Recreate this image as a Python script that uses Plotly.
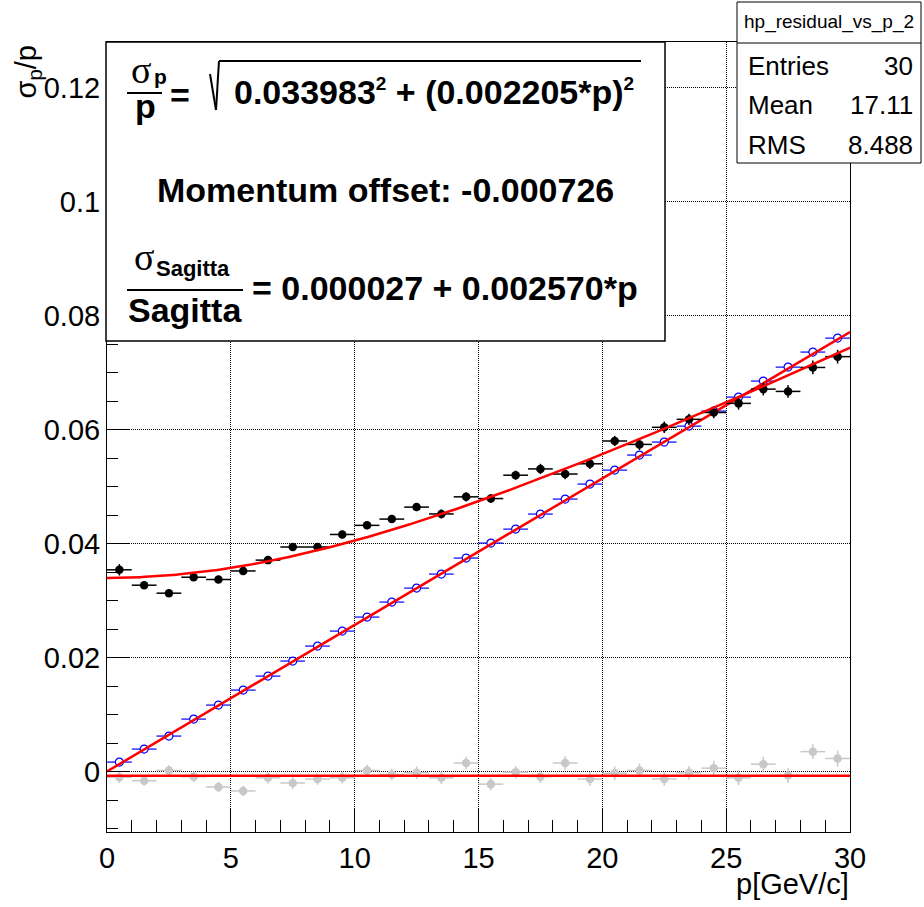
import plotly.graph_objects as go

# ---------------- data ----------------
p_bins = [0.5, 1.5, 2.5, 3.5, 4.5, 5.5, 6.5, 7.5, 8.5, 9.5,
          10.5, 11.5, 12.5, 13.5, 14.5, 15.5, 16.5, 17.5, 18.5, 19.5,
          20.5, 21.5, 22.5, 23.5, 24.5, 25.5, 26.5, 27.5, 28.5, 29.5]
bin_half = [0.5] * 30

sigma_p_over_p = [0.0354, 0.0327, 0.0313, 0.0341, 0.0337, 0.0352, 0.0371, 0.0394, 0.0394, 0.0416,
                  0.0432, 0.0443, 0.0464, 0.0452, 0.0482, 0.0479, 0.0520, 0.0531, 0.0522, 0.0540,
                  0.0580, 0.0574, 0.0604, 0.0618, 0.0630, 0.0646, 0.0671, 0.0667, 0.0709, 0.0728]
sigma_p_err = [0.0010, 0.0005, 0.0005, 0.0005, 0.0005, 0.0006, 0.0006, 0.0006, 0.0006, 0.0007,
               0.0007, 0.0007, 0.0007, 0.0008, 0.0008, 0.0008, 0.0008, 0.0009, 0.0009, 0.0009,
               0.0009, 0.0010, 0.0010, 0.0010, 0.0010, 0.0011, 0.0011, 0.0011, 0.0012, 0.0012]

sagitta_res = [0.00167, 0.00395, 0.00623, 0.00921, 0.01167, 0.01430, 0.01675, 0.01939, 0.02202, 0.02465,
               0.02711, 0.02974, 0.03219, 0.03465, 0.03746, 0.04009, 0.04254, 0.04518, 0.04781, 0.05044,
               0.05289, 0.05553, 0.05781, 0.06061, 0.06325, 0.06570, 0.06851, 0.07096, 0.07360, 0.07605]

momentum_offset = [-0.0010, -0.0016, 0.0002, -0.0009, -0.0027, -0.0034, -0.0011, -0.0020, -0.0013, -0.0011,
                   0.0002, -0.0005, -0.0002, -0.0011, 0.0015, -0.0022, -0.0001, -0.0009, 0.0015, -0.0013,
                   -0.0003, 0.0002, -0.0013, -0.0002, 0.0006, -0.0011, 0.0013, -0.0007, 0.0035, 0.0023]
offset_err = [0.0010, 0.0009, 0.0009, 0.0009, 0.0009, 0.0009, 0.0010, 0.0010, 0.0010, 0.0010,
              0.0010, 0.0010, 0.0011, 0.0011, 0.0011, 0.0011, 0.0011, 0.0011, 0.0012, 0.0012,
              0.0012, 0.0012, 0.0012, 0.0012, 0.0013, 0.0013, 0.0013, 0.0013, 0.0013, 0.0014]

# fit parameters (as printed on the chart)
RES_A, RES_B = 0.033983, 0.002205
SAG_A, SAG_B = 0.000027, 0.002570
OFFSET = -0.000726

stats_name = "hp_residual_vs_p_2"
stats_rows = [("Entries", "30"), ("Mean", "17.11"), ("RMS", "8.488")]

x_range = [0, 30]
y_range = [-0.0106, 0.128]

# ---------------- geometry helpers ----------------
W, H = 924, 907
L, R, T, B = 107, 850, 42, 832


def px(x):
    return (x - L) / (R - L)


def py(y):
    return (B - y) / (B - T)


FONT = "Liberation Sans, Arial, Helvetica, sans-serif"
SERIF = "Liberation Serif, Times New Roman, serif"

fit_p = [i * 0.05 for i in range(601)]
fit_res = [(RES_A ** 2 + (RES_B * x) ** 2) ** 0.5 for x in fit_p]
fit_sag = [SAG_A + SAG_B * x for x in fit_p]
fit_off = [OFFSET for _ in fit_p]

fig = go.Figure()

# momentum offset (grey)
fig.add_trace(go.Scatter(
    x=p_bins, y=momentum_offset, mode="markers",
    marker=dict(color="#c8c8c8", size=8.5, symbol="circle"),
    error_x=dict(type="data", array=bin_half, color="#c8c8c8", thickness=1.5, width=0),
    error_y=dict(type="data", array=offset_err, color="#c8c8c8", thickness=1.5, width=0),
    showlegend=False, hoverinfo="skip"))
fig.add_trace(go.Scatter(x=fit_p, y=fit_off, mode="lines",
                         line=dict(color="#ff0000", width=2.5), showlegend=False, hoverinfo="skip"))

# sagitta resolution (blue open circles)
fig.add_trace(go.Scatter(
    x=p_bins, y=sagitta_res, mode="markers",
    marker=dict(color="white", size=8, symbol="circle", line=dict(color="#0000ff", width=1.2)),
    error_x=dict(type="data", array=bin_half, color="#0000ff", thickness=1.2, width=0),
    showlegend=False, hoverinfo="skip"))
fig.add_trace(go.Scatter(x=fit_p, y=fit_sag, mode="lines",
                         line=dict(color="#ff0000", width=2.5), showlegend=False, hoverinfo="skip"))

# momentum resolution (black)
fig.add_trace(go.Scatter(
    x=p_bins, y=sigma_p_over_p, mode="markers",
    marker=dict(color="black", size=8.5, symbol="circle"),
    error_x=dict(type="data", array=bin_half, color="black", thickness=1.5, width=0),
    error_y=dict(type="data", array=sigma_p_err, color="black", thickness=1.5, width=0),
    showlegend=False, hoverinfo="skip"))
fig.add_trace(go.Scatter(x=fit_p, y=fit_res, mode="lines",
                         line=dict(color="#ff0000", width=2.5), showlegend=False, hoverinfo="skip"))

axis_common = dict(
    showline=True, linecolor="black", linewidth=1, mirror=True,
    ticks="inside", tickcolor="black", tickwidth=1,
    showgrid=True, gridcolor="black", gridwidth=1, griddash="1px,1px",
    zeroline=False,
    tickfont=dict(family=FONT, size=29, color="black"),
)

fig.update_xaxes(range=x_range, tick0=0, dtick=5, ticklen=24,
                 minor=dict(ticks="inside", ticklen=12, dtick=1, tick0=0, tickcolor="black", showgrid=False),
                 **axis_common)
fig.update_yaxes(range=y_range, tick0=0, dtick=0.02, ticklen=22,
                 minor=dict(ticks="inside", ticklen=11, dtick=0.005, tick0=0, tickcolor="black", showgrid=False),
                 **axis_common)

shapes = []
annotations = []

# text box
shapes.append(dict(type="rect", xref="paper", yref="paper", x0=px(106), x1=px(665), y0=py(341), y1=py(42),
                   fillcolor="white", line=dict(color="black", width=1.5), layer="above"))
# stats box
shapes.append(dict(type="rect", xref="paper", yref="paper", x0=px(737), x1=px(921), y0=py(163), y1=py(2),
                   fillcolor="white", line=dict(color="black", width=1), layer="above"))
shapes.append(dict(type="line", xref="paper", yref="paper", x0=px(737), x1=px(921), y0=py(43), y1=py(43),
                   line=dict(color="black", width=1), layer="above"))


def line(x0, y0, x1, y1, w=2):
    shapes.append(dict(type="line", xref="paper", yref="paper", x0=px(x0), x1=px(x1), y0=py(y0), y1=py(y1),
                       line=dict(color="black", width=w), layer="above"))


def text(s, x, y, size, xanchor="left", yanchor="middle", family=FONT, bold=False, angle=0):
    if bold:
        s = "<b>" + s + "</b>"
    annotations.append(dict(text=s, xref="paper", yref="paper", x=px(x), y=py(y), showarrow=False,
                            xanchor=xanchor, yanchor=yanchor, textangle=angle,
                            font=dict(family=family, size=size, color="black")))


SUP2 = '<sup><span style="font-size:19px">2</span></sup>'

# line 1: sigma_p / p = sqrt(...)
text("σ", 141, 70, 38, xanchor="center", family=SERIF)
text("p", 152, 76, 21, bold=True)
line(127, 93, 162, 93, 2)
text("p", 145, 106, 34, xanchor="center", bold=True)
text("=", 168, 95, 34, bold=True)
line(210, 74, 216, 110, 2)
line(216, 110, 219, 61, 2)
line(219, 61, 641, 61, 2)
text("0.033983" + SUP2 + " + (0.002205*p)" + SUP2, 232, 92, 34, bold=True)

# line 2
text("Momentum offset: -0.000726", 385, 190, 34, xanchor="center", bold=True)

# line 3: sigma_sagitta / sagitta
text("σ", 144, 257, 38, xanchor="center", family=SERIF)
text("Sagitta", 154, 268, 22, bold=True)
line(127, 290, 243, 290, 2)
text("Sagitta", 126, 310, 34, bold=True)
text("= 0.000027 + 0.002570*p", 250, 288, 34, bold=True)

# stats box text
text(stats_name, 829, 22, 19, xanchor="center")
for i, (k, v) in enumerate(stats_rows):
    yy = 66 + i * 39.5
    text(k, 746, yy, 26)
    text(v, 915, yy, 26, xanchor="right")

# axis titles
text("σ<sub>p</sub>/p", 27, 44, 29, xanchor="center", yanchor="top", angle=-90)
text("p[GeV/c]", 851, 884, 29, xanchor="right")

fig.update_layout(
    width=W, height=H,
    margin=dict(l=L, r=W - R, t=T, b=H - B, pad=0),
    paper_bgcolor="white", plot_bgcolor="white",
    shapes=shapes, annotations=annotations,
    showlegend=False,
)

fig.write_html("out.html")
